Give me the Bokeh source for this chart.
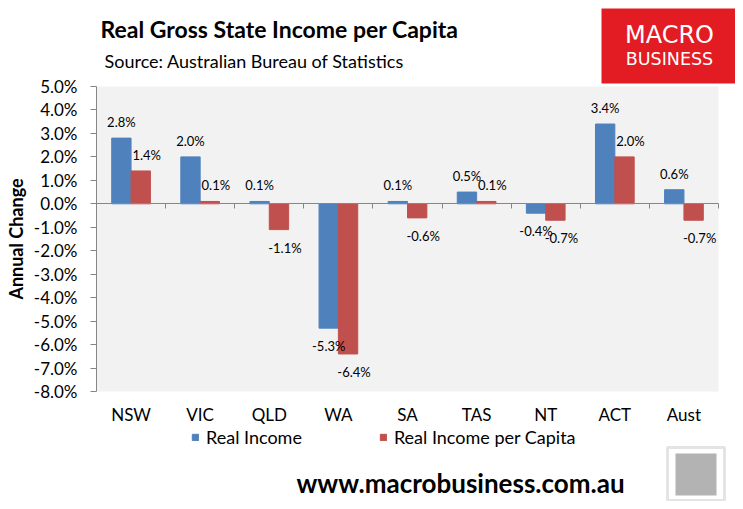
from bokeh.plotting import figure
from bokeh.models import (
    ColumnDataSource,
    Range1d,
    LinearAxis,
    FixedTicker,
    PrintfTickFormatter,
    Label,
    BoxAnnotation,
    Legend,
    LegendItem,
)
from bokeh.core.properties import value
from bokeh.embed import file_html
from bokeh.resources import INLINE

# data
states = ["NSW", "VIC", "QLD", "WA", "SA", "TAS", "NT", "ACT", "Aust"]
real_income = [2.8, 2.0, 0.1, -5.3, 0.1, 0.5, -0.4, 3.4, 0.6]
income_per_capita = [1.4, 0.1, -1.1, -6.4, -0.6, 0.1, -0.7, 2.0, -0.7]
y_ticks = list(range(-8, 6))

BLUE = "#4f81bd"
RED = "#c0504d"
AXIS = "#868686"
FONT = "Lato"

# canvas and where the plot area sits on the picture
W, H = 735, 501
PA_L, PA_R, PA_T, PA_B = 96, 718, 86, 391
Y0, Y1 = -8, 5
N = len(states)

sx = (PA_R - PA_L) / N
sy = (PA_B - PA_T) / (Y1 - Y0)
x_range = Range1d(-PA_L / sx, N + (W - PA_R) / sx)
y_range = Range1d(Y0 - (H - PA_B) / sy, Y1 + PA_T / sy)

p = figure(
    x_range=x_range,
    y_range=y_range,
    width=W,
    height=H,
    output_backend="svg",
    toolbar_location=None,
    x_axis_location=None,
    y_axis_location=None,
    min_border=0,
)
p.background_fill_color = "white"
p.border_fill_color = "white"
p.outline_line_color = None
p.grid.grid_line_color = None

# grey plot area
p.add_layout(BoxAnnotation(left=0, right=N, bottom=Y0, top=Y1, fill_color="#f2f2f2",
                           fill_alpha=1, line_color=None, level="underlay"))

centers = [i + 0.5 for i in range(N)]
bw = 0.28
src = ColumnDataSource(
    dict(
        xb=[c - bw / 2 for c in centers],
        xr=[c + bw / 2 for c in centers],
        real=real_income,
        cap=income_per_capita,
        real_lbl=[f"{v:.1f}%" for v in real_income],
        cap_lbl=[f"{v:.1f}%" for v in income_per_capita],
        real_dy=[-16 if v >= 0 else 18 for v in real_income],
        cap_dy=[-16 if v >= 0 else 18 for v in income_per_capita],
    )
)

r_real = p.vbar(x="xb", top="real", bottom=0, width=bw, source=src, color=BLUE)
r_cap = p.vbar(x="xr", top="cap", bottom=0, width=bw, source=src, color=RED)

# value labels
p.text(x="xb", y="real", text="real_lbl", y_offset="real_dy", source=src,
       text_align="center", text_baseline="middle", text_font=value(FONT),
       text_font_size="13px", text_color="black")
p.text(x="xr", y="cap", text="cap_lbl", x_offset=6, y_offset="cap_dy", source=src,
       text_align="center", text_baseline="middle", text_font=value(FONT),
       text_font_size="13px", text_color="black")

# value axis on the left edge of the plot area
yaxis = LinearAxis(
    fixed_location=0,
    bounds=(Y0, Y1),
    ticker=FixedTicker(ticks=y_ticks),
    formatter=PrintfTickFormatter(format="%.1f%%"),
    axis_line_color=AXIS,
    major_tick_line_color=AXIS,
    major_tick_out=6,
    major_tick_in=0,
    minor_tick_line_color=None,
    major_label_standoff=13,
    major_label_text_font=FONT,
    major_label_text_font_size="17px",
    major_label_text_color="black",
    axis_label="Annual Change",
    axis_label_text_font=FONT,
    axis_label_text_font_style="bold",
    axis_label_text_font_size="18px",
    axis_label_text_color="black",
    axis_label_standoff=4,
)
p.add_layout(yaxis, "left")

# category axis crossing at zero, tick marks between categories
bounds = list(range(1, N + 1))
zero_axis = LinearAxis(
    fixed_location=0,
    bounds=(0, N),
    ticker=FixedTicker(ticks=bounds),
    major_label_overrides={b: "" for b in bounds},
    axis_line_color=AXIS,
    major_tick_line_color=AXIS,
    major_tick_out=5,
    major_tick_in=0,
    minor_tick_line_color=None,
)
p.add_layout(zero_axis, "below")

# category names at the bottom of the plot area
cat_axis = LinearAxis(
    fixed_location=Y0,
    ticker=FixedTicker(ticks=centers),
    major_label_overrides={c: s for c, s in zip(centers, states)},
    axis_line_color=None,
    major_tick_line_color=None,
    minor_tick_line_color=None,
    major_label_standoff=6,
    major_label_text_font=FONT,
    major_label_text_font_size="17px",
    major_label_text_color="black",
)
p.add_layout(cat_axis, "below")


def sy_(py):
    return H - py


legend = Legend(
    items=[LegendItem(label="Real Income", renderers=[r_real]),
           LegendItem(label="Real Income per Capita", renderers=[r_cap])],
    location=(191, sy_(448)),
    orientation="horizontal",
    glyph_width=8,
    glyph_height=8,
    label_standoff=7,
    spacing=77,
    padding=0,
    margin=0,
    border_line_color=None,
    background_fill_alpha=0,
    label_text_font=FONT,
    label_text_font_size="18px",
    label_text_color="black",
)
p.add_layout(legend)


def text_at(text, px, py, size, bold=False, color="black", font=FONT, align="left"):
    # px, py: picture pixels, py is the middle of the text line
    p.add_layout(Label(
        x=px, y=sy_(py), x_units="screen", y_units="screen",
        text=text, text_font=font, text_font_size=size,
        text_font_style="bold" if bold else "normal", text_color=color,
        text_align=align, text_baseline="middle",
    ))


def box_at(left, top, right, bottom, **kw):
    p.add_layout(BoxAnnotation(
        left=left, right=right, top=sy_(top), bottom=sy_(bottom),
        left_units="screen", right_units="screen", top_units="screen",
        bottom_units="screen", **kw))


text_at("Real Gross State Income per Capita", 100, 28, "23px", bold=True)
text_at("Source: Australian Bureau of Statistics", 104, 60, "18px")
text_at("www.macrobusiness.com.au", 296, 482, "26px", bold=True)

# MacroBusiness logo
box_at(601, 8, 735, 83, fill_color="#e31b23", fill_alpha=1, line_color=None)
text_at("MACRO", 669, 34, "24px", color="white", font="DejaVu Sans", align="center")
text_at("BUSINESS", 669, 58, "17.5px", color="white", font="DejaVu Sans", align="center")

# fox badge
box_at(667, 447, 724, 500, fill_color="white", fill_alpha=1,
       line_color="#a6a6a6", line_width=3)
box_at(675, 453, 716, 495, fill_color="#b3b3b3", fill_alpha=1, line_color=None)

open("out.html", "w").write(file_html(p, INLINE))
